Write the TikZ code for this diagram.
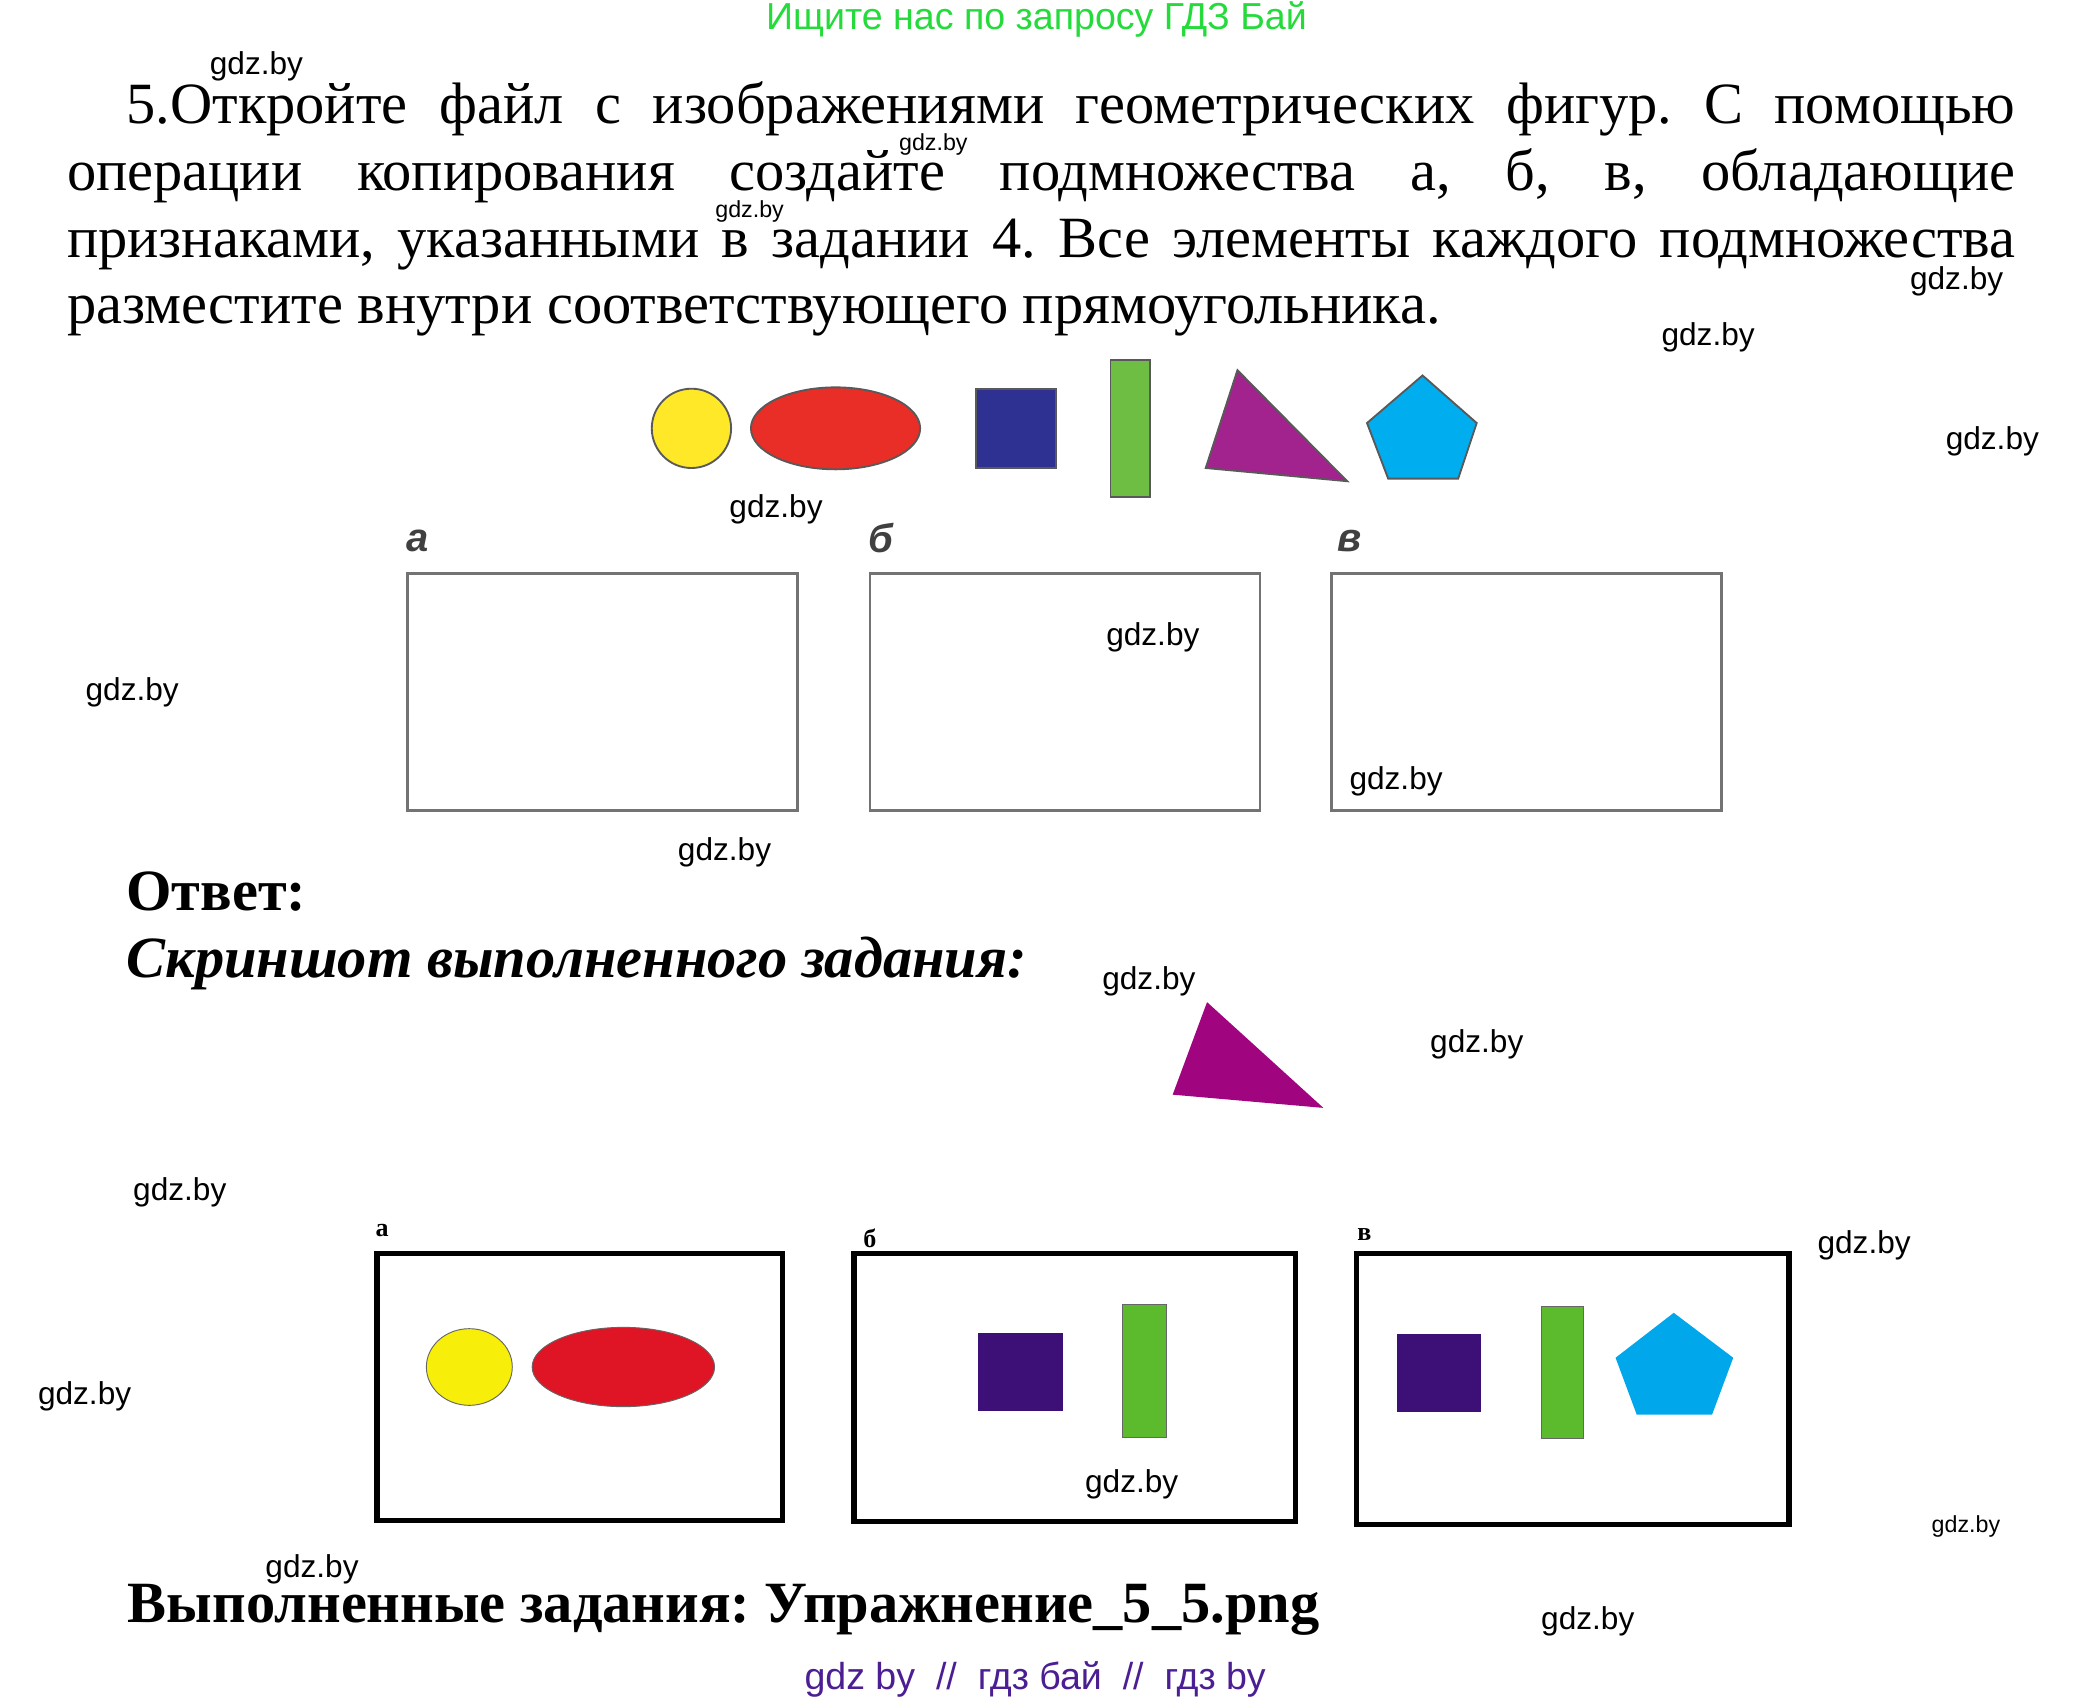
\documentclass[tikz,border=0pt]{standalone}
\usepackage{fontspec}
\setmainfont{Liberation Serif}
\setsansfont{Liberation Sans}
\newfontfamily\wmfont{Liberation Sans}
\usepackage{xcolor}
\definecolor{hintgreen}{HTML}{25DB3C}
\definecolor{linkviolet}{HTML}{4B1E93}
\definecolor{oldyellow}{HTML}{FFE827}
\definecolor{oldred}{HTML}{E92D27}
\definecolor{oldblue}{HTML}{2E3191}
\definecolor{oldgreen}{HTML}{6EBE44}
\definecolor{oldviolet}{HTML}{A3238E}
\definecolor{oldcyan}{HTML}{00AEEF}
\definecolor{newyellow}{HTML}{F7EE0A}
\definecolor{newred}{HTML}{DF1525}
\definecolor{newindigo}{HTML}{3D1078}
\definecolor{newgreen}{HTML}{5CBB2C}
\definecolor{newviolet}{HTML}{A0047F}
\definecolor{newcyan}{HTML}{00A7EA}
\frenchspacing
\tikzset{
    wm/.style={font=\wmfont\fontsize{6.8}{8}\selectfont,inner sep=0pt},
    wmsmall/.style={font=\wmfont\fontsize{5}{6}\selectfont,inner sep=0pt},
    oldedge/.style={draw=black!65,line width=0.4pt},
    oldbox/.style={draw=black!55,line width=0.6pt},
    newbox/.style={draw=black,line width=1.2pt},
    newedge/.style={draw=black!60,line width=0.2pt},
    heading/.style={anchor=base west,inner sep=0pt,font=\fontsize{12.57}{14}\selectfont\bfseries},
    banner/.style={anchor=center,inner sep=0pt,font=\wmfont\fontsize{8.08}{10}\selectfont}
}
\begin{document}
\begin{tikzpicture}[x=0.01cm,y=-0.01cm]
    \useasboundingbox (0,0) rectangle (1568,1285);
    % top and bottom lines
    \node[banner,text=hintgreen] (hint) at (784,15) {Ищите нас по запросу ГДЗ Бай};
    \node[banner,text=linkviolet] (link) at (783,1270) {gdz by~~//~~гдз бай~~//~~гдз by};
    % task text
    \node[anchor=north west,inner sep=0pt,text width=14.73cm,align=justify,font=\fontsize{12.57}{14.37}\selectfont] (task) at (50,61) {\parindent=0.45cm\indent 5.Откройте файл с изображениями геометрических фигур. С помощью\linebreak операции копирования создайте подмножества а, б, в, обладающие\linebreak признаками, указанными в задании 4. Все элементы каждого подмножества\linebreak разместите внутри соответствующего прямоугольника.};
    % source figures
    \draw[oldedge,fill=oldyellow] (523,324) ellipse (30 and 30);
    \draw[oldedge,fill=oldred] (632,324) ellipse (64 and 31);
    \draw[oldedge,fill=oldblue] (738,294) rectangle (799,354);
    \draw[oldedge,fill=oldgreen] (840,272) rectangle (870,376);
    \draw[oldedge,fill=oldviolet] (936,280) -- (912,354) -- (1019,364) -- cycle;
    \draw[oldedge,fill=oldcyan] (1076,284) -- (1117,320) -- (1103,362) -- (1050,362) -- (1034,320) -- cycle;
    % empty boxes
    \foreach \name/\xa/\xb/\lab/\lx/\ly in {a/308/603/а/316/409,b/658/953/б/666/407,c/1007/1302/в/1021/409} {
        \draw[oldbox] (\xa,434) rectangle (\xb,613);
        \node[inner sep=0pt,text=black!75,font=\sffamily\bfseries\itshape\fontsize{8.6}{10}\selectfont] (old\name) at (\lx,\ly) {\lab};
    }
    % answer headings
    \node[heading] (answer) at (95,689) {Ответ:};
    \node[heading,font=\fontsize{12.57}{14}\selectfont\bfseries\itshape] (shot) at (95,739) {Скриншот выполненного задания:};
    \node[heading] (done) at (96,1227) {Выполненные задания: Упражнение\_5\_5.png};
    % copied triangle
    \fill[newviolet] (913,758) -- (887,828) -- (1001,838) -- cycle;
    % result boxes
    \draw[newbox] (285,948) rectangle (592,1150);
    \draw[newbox] (646,948) rectangle (980,1151);
    \draw[newbox] (1026,948) rectangle (1353,1153);
    \foreach \name/\lab/\lx/\ly in {a/а/289/931,b/б/658/937,c/в/1032/934} {
        \node[inner sep=0pt,font=\fontsize{5.6}{6}\selectfont\bfseries] (new\name) at (\lx,\ly) {\lab};
    }
    % results
    \draw[newedge,fill=newyellow] (355,1034) ellipse (32.5 and 29);
    \draw[newedge,fill=newred] (471.5,1034) ellipse (69 and 30);
    \fill[newindigo] (740,1008) rectangle (804,1067);
    \draw[newedge,fill=newgreen] (849,987) rectangle (882,1087);
    \fill[newindigo] (1057,1009) rectangle (1120,1068);
    \draw[newedge,fill=newgreen] (1166,988) rectangle (1198,1088);
    \fill[newcyan] (1266,993) -- (1311,1027) -- (1295,1070) -- (1238,1070) -- (1222,1027) -- cycle;
    % watermarks
    \foreach \px/\py [count=\i] in {194/50,1480/213,1292/255,1507/334,587/385,100/524,872/482,1056/591,548/645,869/742,1117/790,136/902,1410/942,64/1056,856/1123,236/1187,1201/1226} {
        \node[wm] (w\i) at (\px,\py) {gdz.by};
    }
    \foreach \px/\py [count=\i] in {706/109,567/160,1487/1155} {
        \node[wmsmall] (s\i) at (\px,\py) {gdz.by};
    }
\end{tikzpicture}
\end{document}
